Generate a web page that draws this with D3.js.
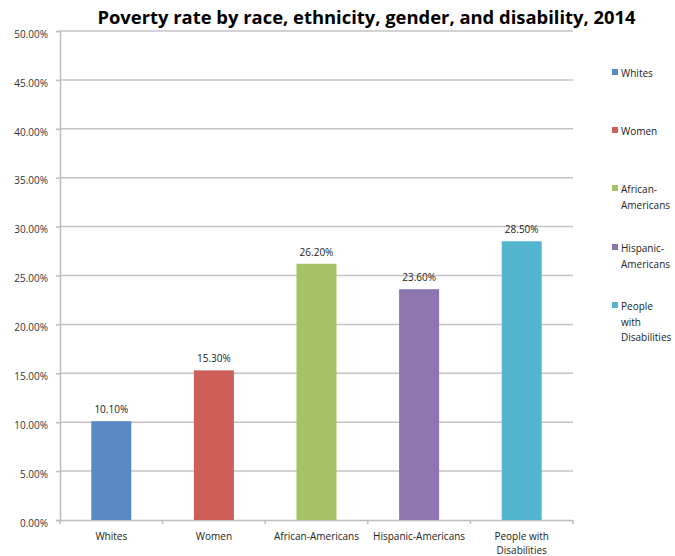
<!DOCTYPE html>
<html><head><meta charset="utf-8">
<script src="https://cdn.jsdelivr.net/npm/d3@7"></script>
<style>body{margin:0;background:#fff;} text{font-family:"Open Sans","Liberation Sans",sans-serif;}</style>
</head><body><svg id="c" width="675" height="556"></svg>
<script>
const categories = ["Whites","Women","African-Americans","Hispanic-Americans","People with Disabilities"];
const values = [10.1, 15.3, 26.2, 23.6, 28.5];
const colors = ["#5a8ac6","#cd5f58","#a5c364","#8d75b0","#53b5cf"];
const yTicks = [0,5,10,15,20,25,30,35,40,45,50];
const legendLabels = [["Whites"],["Women"],["African-","Americans"],["Hispanic-","Americans"],["People","with","Disabilities"]];
const xLabelLines = [["Whites"],["Women"],["African-Americans"],["Hispanic-Americans"],["People with","Disabilities"]];

const svg = d3.select("#c");
const mL = 60, mR = 573, mT = 31, mB = 520;
const x = d3.scaleBand().domain(categories).range([mL,mR]).paddingInner(0.61).paddingOuter(0.305);
const xb = d3.scaleBand().domain(categories).range([mL,mR]);
const y = d3.scaleLinear().domain([0,50]).range([mB,mT]);

svg.append("text").attr("x",366.5).attr("y",24).attr("text-anchor","middle")
  .style("font-size","18.4px").style("font-weight","bold").attr("fill","#000")
  .text("Poverty rate by race, ethnicity, gender, and disability, 2014");

// gridlines
svg.append("g").selectAll("line").data(yTicks.slice(1)).join("line")
  .attr("x1",mL).attr("x2",mR).attr("y1",d=>y(d)).attr("y2",d=>y(d))
  .attr("stroke","#c4c4c4").attr("stroke-width",1.5);

// y axis
const ya = svg.append("g").attr("transform",`translate(${mL},0)`)
  .call(d3.axisLeft(y).tickValues(yTicks).tickSize(4).tickPadding(8).tickFormat(d=>d.toFixed(2)+"%"));
ya.select(".domain").attr("stroke","#bdbdbd").attr("stroke-width",1.5);
ya.selectAll(".tick line").attr("stroke","#bdbdbd").attr("stroke-width",1.5);
ya.selectAll("text").style("font-size","10px").attr("fill","#333").attr("dy","0.62em");

// x axis
const xa = svg.append("g").attr("transform",`translate(0,${mB})`)
  .call(d3.axisBottom(xb).tickSize(0).tickFormat(""));
xa.select(".domain").attr("stroke","#bdbdbd").attr("stroke-width",1.5);
const bounds = [mL, ...categories.map(c=>xb(c)+xb.bandwidth())];
svg.append("g").selectAll("line").data(bounds).join("line")
  .attr("x1",d=>d).attr("x2",d=>d).attr("y1",mB).attr("y2",mB+4)
  .attr("stroke","#bdbdbd").attr("stroke-width",1.5);

categories.forEach((c,i)=>{
  const cx = xb(c)+xb.bandwidth()/2;
  const t = svg.append("text").attr("x",cx).attr("y",540)
    .attr("text-anchor","middle").style("font-size","10px").attr("fill","#222");
  xLabelLines[i].forEach((l,j)=>t.append("tspan").attr("x",cx).attr("dy",j?14:0).text(l));
});

// bars
svg.append("g").selectAll("rect").data(values).join("rect")
  .attr("x",(d,i)=>x(categories[i])).attr("width",x.bandwidth())
  .attr("y",d=>y(d)).attr("height",d=>mB-y(d)).attr("fill",(d,i)=>colors[i]);

svg.append("g").selectAll("text").data(values).join("text")
  .attr("x",(d,i)=>x(categories[i])+x.bandwidth()/2).attr("y",d=>y(d)-8)
  .attr("text-anchor","middle").style("font-size","10px").attr("fill","#222")
  .text(d=>d.toFixed(2)+"%");

// legend
const legY = [77,135,193,252,310];
legendLabels.forEach((lines,i)=>{
  svg.append("rect").attr("x",612).attr("y",legY[i]-8).attr("width",6).attr("height",6).attr("fill",colors[i]);
  const t = svg.append("text").attr("x",621).attr("y",legY[i]).style("font-size","10px").attr("fill","#222");
  lines.forEach((l,j)=>t.append("tspan").attr("x",621).attr("dy",j?15.6:0).text(l));
});
</script></body></html>
